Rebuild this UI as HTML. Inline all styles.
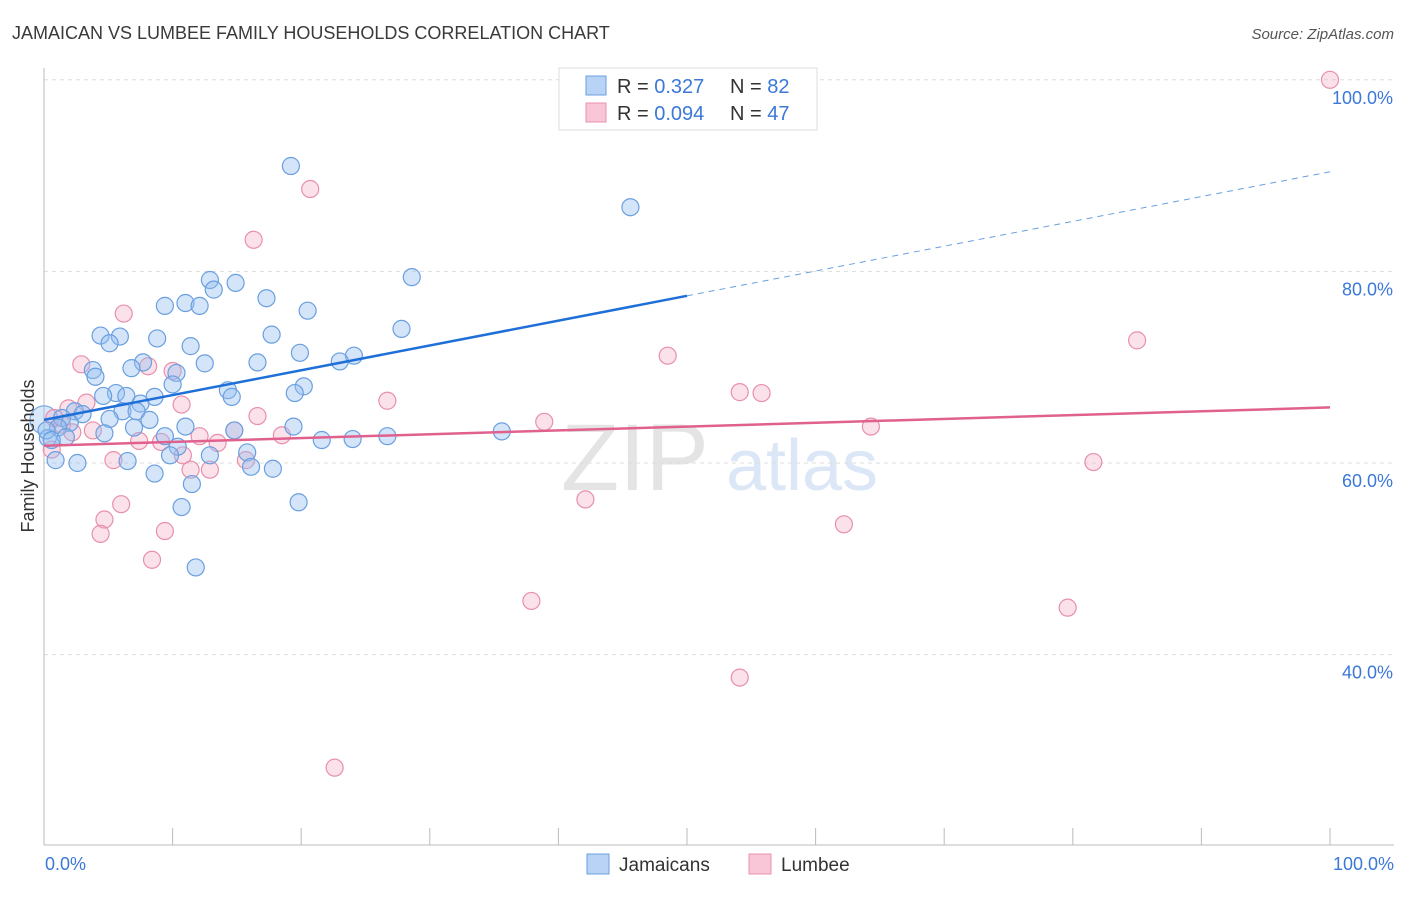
<!DOCTYPE html>
<html><head><meta charset="utf-8"><style>
body{margin:0;background:#fff;font-family:"Liberation Sans",sans-serif;}
svg text{font-family:"Liberation Sans",sans-serif;}
</style></head><body>
<svg id="chart" width="1406" height="892" viewBox="0 0 1406 892" xmlns="http://www.w3.org/2000/svg">
<text x="12" y="39" font-size="18" fill="#3a3a3a">JAMAICAN VS LUMBEE FAMILY HOUSEHOLDS CORRELATION CHART</text>
<text x="1394" y="39" font-size="15" fill="#555" text-anchor="end" font-style="italic">Source: ZipAtlas.com</text>
<text x="635" y="490" font-size="95" fill="#e4e4e4" text-anchor="middle" font-family="Liberation Serif">ZIP</text>
<text x="802" y="490" font-size="72" fill="#dbe7f6" text-anchor="middle">atlas</text>
<g id="grid"></g>
<g id="axes"></g>
<g id="pts"></g>
<g id="lines"></g>
<text transform="translate(34,456) rotate(-90)" font-size="18" fill="#333" text-anchor="middle">Family Households</text>
<text x="45" y="870" font-size="18" fill="#3b78d8">0.0%</text>
<text x="1394" y="870" font-size="18" fill="#3b78d8" text-anchor="end">100.0%</text>
<g>
<rect x="559" y="68" width="258" height="62" fill="#fff" stroke="#ddd"/>
<rect x="586" y="76" width="20" height="19" fill="#b8d3f5" stroke="#6a9fe0"/>
<rect x="586" y="103" width="20" height="19" fill="#f8c6d6" stroke="#e890ab"/>
<text x="617" y="93" font-size="20" fill="#333">R = <tspan fill="#3b78d8">0.327</tspan></text>
<text x="730" y="93" font-size="20" fill="#333">N = <tspan fill="#3b78d8">82</tspan></text>
<text x="617" y="120" font-size="20" fill="#333">R = <tspan fill="#3b78d8">0.094</tspan></text>
<text x="730" y="120" font-size="20" fill="#333">N = <tspan fill="#3b78d8">47</tspan></text>
</g>
<g>
<rect x="587" y="854" width="22" height="20" fill="#b8d3f5" stroke="#6a9fe0"/>
<text x="619" y="871" font-size="19" fill="#333">Jamaicans</text>
<rect x="749" y="854" width="22" height="20" fill="#f8c6d6" stroke="#e890ab"/>
<text x="781" y="871" font-size="19" fill="#333">Lumbee</text>
</g>
</svg>
<script>
const blueX=[19.2,45.6,12.9,14.9,28.6,13.2,17.3,9.4,11.0,12.1,20.5,27.8,4.4,5.9,8.8,17.7,5.1,11.4,19.9,24.1,23.0,7.7,12.5,16.6,6.8,10.3,3.8,4.0,10.0,20.2,14.3,19.5,5.6,6.4,4.6,14.6,8.6,7.5,2.4,3.0,6.1,7.2,8.2,1.4,2.0,1.1,5.1,11.0,9.4,14.8,19.4,21.6,24.0,26.7,35.6,4.7,7.0,0.3,1.7,10.4,12.9,15.8,9.8,0.9,2.6,6.5,16.1,17.8,8.6,11.5,19.8,10.7,11.8,0.2,0.6];
const blueY=[91.0,86.7,79.1,78.8,79.4,78.1,77.2,76.4,76.7,76.4,75.9,74.0,73.3,73.2,73.0,73.4,72.5,72.2,71.5,71.2,70.6,70.5,70.4,70.5,69.9,69.4,69.7,69.0,68.2,68.0,67.6,67.3,67.3,67.0,67.0,66.9,66.9,66.2,65.4,65.1,65.4,65.4,64.5,64.7,64.2,63.7,64.6,63.8,62.8,63.4,63.8,62.4,62.5,62.8,63.3,63.1,63.7,62.6,62.7,61.7,60.8,61.1,60.8,60.3,60.0,60.2,59.6,59.4,58.9,57.8,55.9,55.4,49.1,63.4,62.4];
const pinkX=[100,20.7,16.3,6.2,85.0,48.5,2.9,8.1,10.0,54.1,55.8,26.7,1.9,10.7,3.3,16.6,38.9,64.3,14.8,3.8,12.1,18.5,13.5,7.4,9.1,10.8,5.4,15.7,11.4,12.9,81.6,42.1,6.0,4.7,62.2,4.4,9.4,8.4,37.9,79.6,54.1,22.6,0.6,1.4,2.2,0.8];
const pinkY=[100.0,88.6,83.3,75.6,72.8,71.2,70.3,70.1,69.6,67.4,67.3,66.5,65.7,66.1,66.3,64.9,64.3,63.8,63.4,63.4,62.8,62.9,62.1,62.3,62.2,60.8,60.3,60.3,59.3,59.3,60.1,56.2,55.7,54.1,53.6,52.6,52.9,49.9,45.6,44.9,37.6,28.2,61.4,64.0,63.2,64.7];
const yTicks=[40,60,80,100];
const yTickLabels=["40.0%","60.0%","80.0%","100.0%"];
const blueTrend=[64.5,90.4]; const blueSolidEnd=50;
const pinkTrend=[61.8,65.8];
const NS="http://www.w3.org/2000/svg";
const X0=44,X1=1330,Y60=463,PX20=191.6;
const sx=v=>X0+(X1-X0)*v/100;
const sy=v=>Y60-(v-60)*PX20/20;
function mk(tag,attrs,parent){const e=document.createElementNS(NS,tag);for(const k in attrs)e.setAttribute(k,attrs[k]);parent.appendChild(e);return e;}
const grid=document.getElementById('grid'),axes=document.getElementById('axes'),pts=document.getElementById('pts'),lines=document.getElementById('lines');
yTicks.forEach((t,i)=>{
 const l=mk('line',{x1:44,x2:1394,y1:sy(t),y2:sy(t),stroke:'#ddd','stroke-dasharray':'4,4'},grid);
 
 
 const tx=mk('text',{x:1393,y:sy(t)+24,'font-size':18,fill:'#3b78d8','text-anchor':'end'},grid);
 tx.textContent=yTickLabels[i];
 
 
});
let a=mk('line',{x1:44,x2:44,y1:68,y2:845,stroke:'#bbb'},axes);


a=mk('line',{x1:44,x2:1394,y1:845,y2:845,stroke:'#bbb'},axes);


for(let i=0;i<=10;i++){
 const t=mk('line',{x1:sx(i*10),x2:sx(i*10),y1:828,y2:845,stroke:'#bbb'},axes);
 
 
}
const big=mk('circle',{cx:sx(0),cy:sy(64.5),r:14,fill:'rgba(147,190,240,0.35)',stroke:'#7aaae6','stroke-width':1.2},pts);


pinkX.forEach((x,i)=>{
 const c=mk('circle',{cx:sx(x),cy:sy(pinkY[i]),r:8.5,fill:'rgba(244,170,195,0.35)',stroke:'#e890ab','stroke-width':1.2},pts);
 
 
});
blueX.forEach((x,i)=>{
 const c=mk('circle',{cx:sx(x),cy:sy(blueY[i]),r:8.5,fill:'rgba(147,190,240,0.4)',stroke:'#6a9fe0','stroke-width':1.2},pts);
 
 
});
const by=v=>blueTrend[0]+(blueTrend[1]-blueTrend[0])*v/100;
let L=mk('line',{x1:sx(0),y1:sy(by(0)),x2:sx(blueSolidEnd),y2:sy(by(blueSolidEnd)),stroke:'#1f6fd8','stroke-width':2.5},lines);


L=mk('line',{x1:sx(blueSolidEnd),y1:sy(by(blueSolidEnd)),x2:sx(100),y2:sy(by(100)),stroke:'#6a9fe0','stroke-width':1,'stroke-dasharray':'6,5'},lines);


L=mk('line',{x1:sx(0),y1:sy(pinkTrend[0]),x2:sx(100),y2:sy(pinkTrend[1]),stroke:'#e0608e','stroke-width':2.5},lines);


</script>
</body></html>
